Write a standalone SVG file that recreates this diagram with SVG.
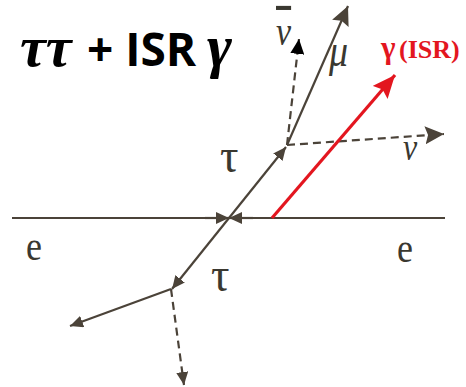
<svg xmlns="http://www.w3.org/2000/svg" width="466" height="387" viewBox="0 0 466 387">
<style>
.ln{stroke:#4b4339;stroke-width:2.2;fill:none}
.ds{stroke:#4b4339;stroke-width:2.2;fill:none;stroke-dasharray:8 5}
.red{stroke:#e3161f;stroke-width:3.2;fill:none}
.lab{font-family:"Liberation Serif",serif;fill:#3a3830}
.it{font-style:italic}
.title{font-weight:bold;fill:#000}
</style>
<defs>
<marker id="aS" markerUnits="userSpaceOnUse" markerWidth="14" markerHeight="12" refX="13" refY="6" orient="auto"><path d="M0,0 L13,6 L0,12 z" fill="#4b4339"/></marker>
<marker id="aL" markerUnits="userSpaceOnUse" markerWidth="20" markerHeight="18" refX="19" refY="9" orient="auto"><path d="M0,0 L19,9 L0,18 L3,9 z" fill="#4b4339"/></marker>
<marker id="aK" markerUnits="userSpaceOnUse" markerWidth="16" markerHeight="14" refX="15" refY="7" orient="auto"><path d="M0,0 L15,7 L0,14 z" fill="#000"/></marker>
<marker id="aR" markerUnits="userSpaceOnUse" markerWidth="24" markerHeight="20" refX="23" refY="10" orient="auto"><path d="M0,0 L23,10 L0,20 L4,10 z" fill="#e3161f"/></marker>
</defs>
<g id="title">
<text class="title" y="66"><tspan font-family="Liberation Serif,serif" font-style="italic" font-size="58" x="20">ττ</tspan><tspan font-family="Open Sans,sans-serif" font-size="46" x="87">+ ISR</tspan><tspan font-family="Liberation Serif,serif" font-style="italic" font-size="60" x="207">γ</tspan></text>
</g>
<g id="connectors">
<line class="ln" x1="12" y1="218" x2="445" y2="218"/>
<path class="ln" d="M205,218 L229,218" marker-end="url(#aS)"/>
<path class="ln" d="M253,218 L229,218" marker-end="url(#aS)"/>
<path class="ln" d="M229,218 L286,147" marker-end="url(#aS)"/>
<path class="ln" d="M229,218 L172,289" marker-end="url(#aS)"/>
<path class="ln" d="M287,145 L348,6" marker-end="url(#aL)"/>
<path class="ds" d="M287,145 L299,39" marker-end="url(#aK)"/>
<path class="ds" d="M287,145 L444,134" marker-end="url(#aL)"/>
<path class="red" d="M272,218 L395,75" marker-end="url(#aR)"/>
<path class="ln" d="M171,289 L70,326" marker-end="url(#aS)"/>
<path class="ds" d="M171,289 L184,385" marker-end="url(#aS)"/>
</g>
<g id="labels">
<text class="lab" transform="translate(26,260) scale(1,1.2)" font-size="36">e</text>
<text class="lab" transform="translate(397,262) scale(1,1.2)" font-size="36">e</text>
<text class="lab" transform="translate(220,172) scale(1,1.05)" font-size="46">τ</text>
<text class="lab" transform="translate(211,291) scale(1,1.05)" font-size="46">τ</text>
<text class="lab it" transform="translate(329,66) scale(1,1.2)" font-size="38">μ</text>
<text class="lab it" transform="translate(276,45) scale(1,1.2)" font-size="34" text-decoration="overline">ν</text>
<text class="lab it" transform="translate(403,160) scale(1,1.2)" font-size="32">ν</text>
<text font-family="Liberation Serif,serif" font-weight="bold" fill="#e3161f" y="58"><tspan x="381" font-size="31">γ</tspan><tspan x="399" font-size="26">(ISR)</tspan></text>
</g>
</svg>
